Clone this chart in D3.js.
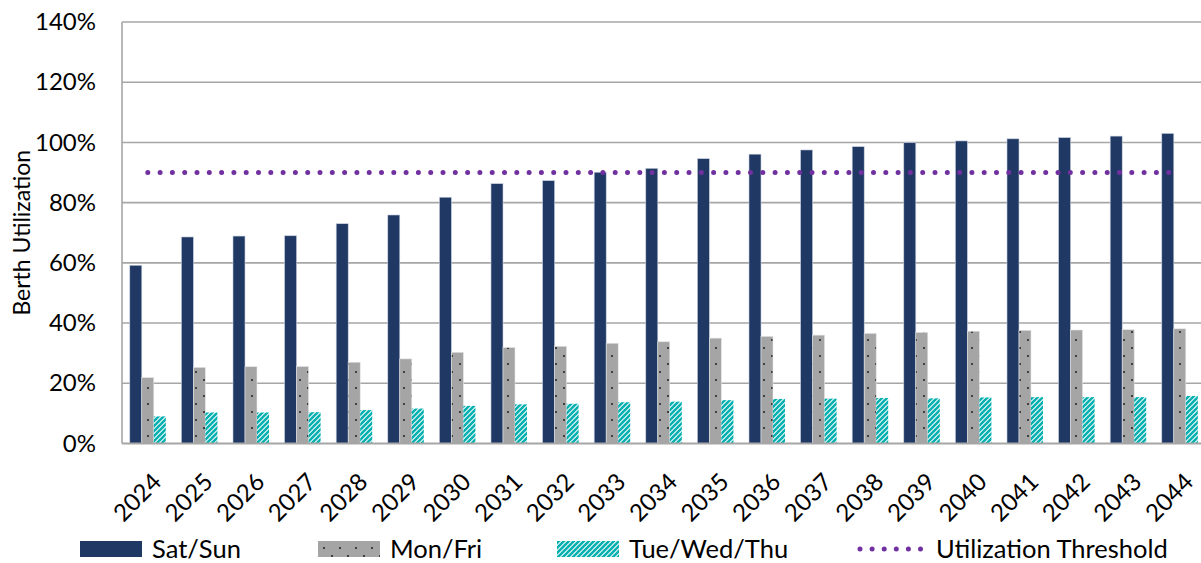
<!DOCTYPE html>
<html>
<head>
<meta charset="utf-8">
<script src="https://cdn.jsdelivr.net/npm/d3@7/dist/d3.min.js"></script>
<style>
  html, body { margin: 0; padding: 0; background: #fff; }
  svg { display: block; font-family: Lato, "Open Sans", sans-serif; }
</style>
</head>
<body>
<svg id="chart" width="1201" height="563"></svg>
<script>
// Berth utilization by day group, 2024–2044
const years = ["2024","2025","2026","2027","2028","2029","2030","2031","2032","2033","2034",
               "2035","2036","2037","2038","2039","2040","2041","2042","2043","2044"];
const satSun = [59.2, 68.6, 68.9, 69.0, 73.0, 75.9, 81.8, 86.3, 87.3, 90.1, 91.4,
                94.6, 96.1, 97.5, 98.6, 99.9, 100.5, 101.2, 101.6, 102.1, 103.0];
const monFri = [21.9, 25.3, 25.5, 25.6, 27.0, 28.1, 30.3, 31.9, 32.3, 33.3, 33.8,
                35.0, 35.6, 36.0, 36.6, 36.9, 37.3, 37.6, 37.7, 37.8, 38.1];
const tueWedThu = [9.0, 10.3, 10.3, 10.4, 11.1, 11.6, 12.5, 13.0, 13.2, 13.7, 13.9,
                   14.4, 14.8, 14.9, 15.1, 15.0, 15.3, 15.4, 15.4, 15.4, 15.8];
const threshold = 90;
const yTicks = [0, 20, 40, 60, 80, 100, 120, 140];
const seriesNames = ["Sat/Sun", "Mon/Fri", "Tue/Wed/Thu"];
const thresholdName = "Utilization Threshold";

const svg = d3.select("#chart");
const plot = { left: 122, right: 1205.6, top: 22, bottom: 443.5 };
const FONT = 24;
const LEGEND_FONT = 25.5;

// Fill patterns
const defs = svg.append("defs");
const dots = defs.append("pattern").attr("id", "dots")
  .attr("patternUnits", "userSpaceOnUse").attr("width", 16).attr("height", 16);
dots.append("rect").attr("width", 16).attr("height", 16).attr("fill", "#a5a5a5");
dots.append("rect").attr("x", 3).attr("y", 3).attr("width", 2).attr("height", 2).attr("fill", "#404040");
dots.append("rect").attr("x", 11).attr("y", 11).attr("width", 2).attr("height", 2).attr("fill", "#404040");

const stripes = defs.append("pattern").attr("id", "stripes")
  .attr("patternUnits", "userSpaceOnUse").attr("width", 5).attr("height", 5);
stripes.append("rect").attr("width", 5).attr("height", 5).attr("fill", "#ffffff");
stripes.append("path")
  .attr("d", "M-1,1 L1,-1 M0,5 L5,0 M4,6 L6,4")
  .attr("stroke", "#06b0b0").attr("stroke-width", 2.6);

const fills = ["#203864", "url(#dots)", "url(#stripes)"];

// Scales
const x = d3.scaleBand().domain(years).range([plot.left, plot.right]).paddingInner(0).paddingOuter(0);
const step = x.bandwidth();
const groupPad = step * 0.151;
const xs = d3.scaleBand().domain(d3.range(3)).range([groupPad, step - groupPad]).padding(0);
const y = d3.scaleLinear().domain([0, 140]).range([plot.bottom, plot.top]);

// Gridlines
svg.append("g").selectAll("line").data(yTicks.filter(d => d > 0)).join("line")
  .attr("x1", plot.left).attr("x2", plot.right)
  .attr("y1", d => y(d)).attr("y2", d => y(d))
  .attr("stroke", "#a6a6a6").attr("stroke-width", 1.6);

// Y axis with percent labels
const yAxis = d3.axisLeft(y).tickValues(yTicks).tickFormat(d => d + "%").tickSize(0).tickPadding(26);
const gy = svg.append("g").attr("transform", `translate(${plot.left},0)`).call(yAxis);
gy.select(".domain").remove();
gy.selectAll("text").attr("font-size", FONT).attr("fill", "#000").attr("font-family", "Lato");
svg.append("line").attr("x1", plot.left).attr("x2", plot.left)
  .attr("y1", plot.top).attr("y2", plot.bottom)
  .attr("stroke", "#a6a6a6").attr("stroke-width", 1.6);

// Bars
const seriesData = [satSun, monFri, tueWedThu];
seriesData.forEach((vals, si) => {
  svg.append("g").selectAll("rect").data(vals).join("rect")
    .attr("x", (d, i) => x(years[i]) + xs(si))
    .attr("y", d => y(d))
    .attr("width", xs.bandwidth())
    .attr("height", d => y(0) - y(d))
    .attr("fill", fills[si])
    .attr("stroke", si === 0 ? "#c9d1e0" : (si === 1 ? "#e6e6e6" : "none"))
    .attr("stroke-width", si === 2 ? 0 : 0.6);
});

// X axis baseline
svg.append("line").attr("x1", plot.left).attr("x2", plot.right)
  .attr("y1", plot.bottom).attr("y2", plot.bottom)
  .attr("stroke", "#a6a6a6").attr("stroke-width", 2);

// Rotated year labels
const xAxis = d3.axisBottom(x).tickSize(0).tickPadding(0);
const gx = svg.append("g").attr("transform", `translate(0,${plot.bottom})`).call(xAxis);
gx.select(".domain").remove();
gx.selectAll("text")
  .attr("font-size", FONT).attr("fill", "#000").attr("font-family", "Lato")
  .attr("text-anchor", "end")
  .attr("dy", null).attr("y", 0)
  .attr("transform", "translate(15,40) rotate(-45)");

// Threshold line across category centres
const line = d3.line().x((d, i) => x(years[i]) + step / 2).y(d => y(d));
svg.append("path").datum(years.map(() => threshold))
  .attr("d", line).attr("fill", "none")
  .attr("stroke", "#7030a0").attr("stroke-width", 5)
  .attr("stroke-linecap", "round").attr("stroke-dasharray", "0 12.3");

// Axis title
svg.append("text")
  .attr("transform", `translate(30,${(plot.top + plot.bottom) / 2}) rotate(-90)`)
  .attr("text-anchor", "middle").attr("font-size", 23).attr("font-family", "Lato")
  .text("Berth Utilization");

// Legend
const legendY = 549;
const legendX = [80, 318, 557, 858];
const lg = svg.append("g");
seriesNames.forEach((name, i) => {
  lg.append("rect").attr("x", legendX[i]).attr("y", legendY - 8)
    .attr("width", 62).attr("height", 16).attr("fill", fills[i]);
  lg.append("text").attr("x", legendX[i] + 72).attr("y", legendY)
    .attr("dy", "0.35em").attr("font-size", LEGEND_FONT).attr("font-family", "Lato").text(name);
});
lg.append("line").attr("x1", legendX[3] + 2).attr("x2", legendX[3] + 63)
  .attr("y1", legendY).attr("y2", legendY)
  .attr("stroke", "#7030a0").attr("stroke-width", 5)
  .attr("stroke-linecap", "round").attr("stroke-dasharray", "0 12.1");
lg.append("text").attr("x", legendX[3] + 78).attr("y", legendY)
  .attr("dy", "0.35em").attr("font-size", LEGEND_FONT).attr("font-family", "Lato").text(thresholdName);
</script>
</body>
</html>
